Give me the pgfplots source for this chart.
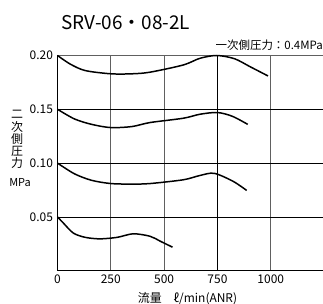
\documentclass[border=0pt]{standalone}
\usepackage{fontspec}
\setmainfont{Noto Sans CJK JP}
\usepackage{pgfplots}
\pgfplotsset{compat=1.18}
\begin{document}
\begin{tikzpicture}[x=1bp,y=1bp]
\useasboundingbox (-57.5,-33.3) rectangle (265.5,270.7);
\begin{axis}[
  at={(0,0)}, anchor=south west,
  scale only axis, width=265.5bp, height=215.2bp,
  xmin=0, xmax=1245, ymin=0, ymax=0.20,
  axis x line=bottom, axis y line=left,
  axis line style={-, black, line width=0.8pt},
  xtick={0,250,500,750,1000},
  xticklabels={0,250,500,750,1000},
  ytick={0.05,0.10,0.15,0.20},
  yticklabels={0.05,0.10,0.15,0.20},
  major tick length=0pt,
  xmajorgrids, ymajorgrids,
  major grid style={gray!75!black, line width=0.7pt},
  tick label style={font=\fontsize{12}{12}\selectfont},
  xticklabel style={yshift=-1bp},
  yticklabel style={xshift=-1bp},
  clip=false,
]
\draw[black, line width=0.7pt] (axis cs:750,0) -- (axis cs:750,0.20);
\foreach \yy in {0.05,0.10,0.15} {
  \edef\tmp{\noexpand\draw[black, line width=0.7pt] (axis cs:0,\yy) -- (axis cs:1245,\yy);}\tmp
}
\addplot[smooth, black, line width=1.5pt] coordinates {
(0,0.200) (60,0.192) (130,0.186) (250,0.183) (350,0.183) (434,0.1845) (590,0.1912) (668,0.1974) (747,0.200) (830,0.197) (903,0.1896) (987,0.181)};
\addplot[smooth, black, line width=1.5pt] coordinates {
(0,0.150) (80,0.141) (160,0.136) (250,0.133) (350,0.134) (434,0.1377) (590,0.1417) (668,0.1454) (750,0.147) (820,0.1435) (892,0.136)};
\addplot[smooth, black, line width=1.5pt] coordinates {
(0,0.100) (80,0.090) (160,0.084) (250,0.081) (350,0.0805) (434,0.081) (590,0.0845) (668,0.0885) (735,0.0905) (824,0.083) (887,0.0746)};
\addplot[smooth, black, line width=1.5pt] coordinates {
(0,0.050) (27,0.0444) (74,0.035) (130,0.031) (199,0.0296) (280,0.031) (355,0.0343) (434,0.032) (481,0.0275) (539,0.0219)};
\end{axis}
\node[font=\fontsize{19}{19}\selectfont] at (68.2,247.7) {SRV-06・08-2L};
\node[font=\fontsize{11.5}{11.5}\selectfont, anchor=east, inner sep=0pt] at (265.5,225.7) {一次側圧力：0.4MPa};
\node[font=\fontsize{12}{12.3}\selectfont, align=center, inner sep=0pt] at (-40.5,131) {二\\次\\側\\圧\\力};
\node[font=\fontsize{11}{11}\selectfont, inner sep=0pt] at (-37.5,88) {MPa};
\node[font=\fontsize{12}{12}\selectfont] at (130,-28.3) {流量\quad ℓ/min(ANR)};
\end{tikzpicture}
\end{document}
